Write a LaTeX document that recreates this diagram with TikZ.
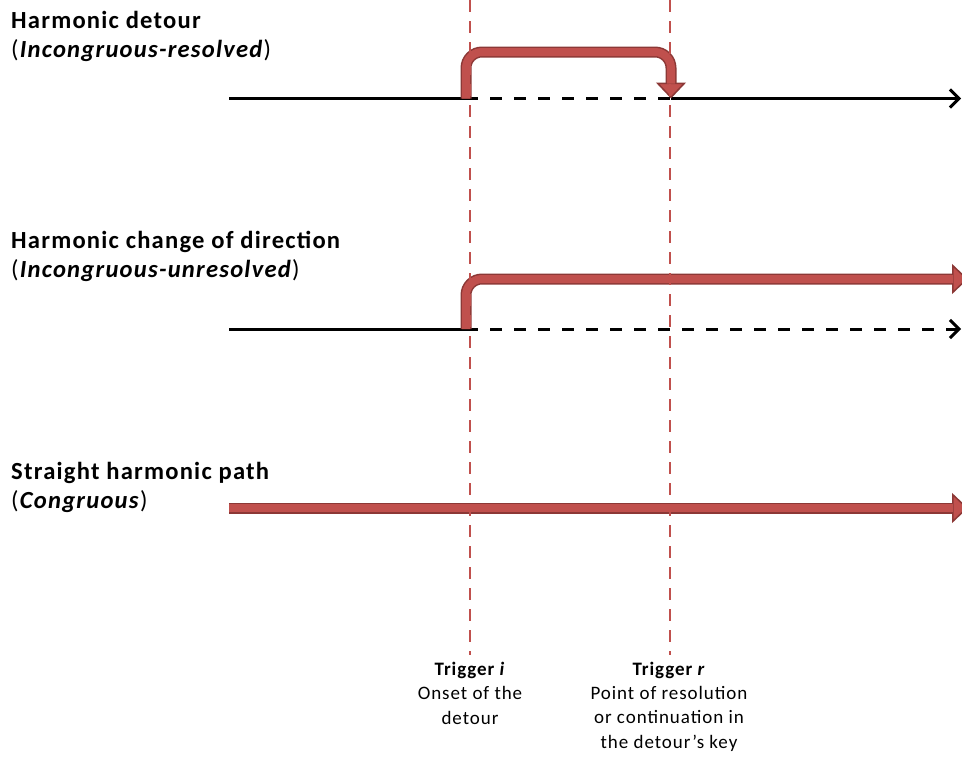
\documentclass[tikz,border=0pt]{standalone}
\usepackage{fontspec}
\setmainfont[LetterSpace=5]{Carlito}
\usetikzlibrary{positioning, arrows.meta}
\definecolor{myred}{RGB}{192,80,77}
\definecolor{reddark}{RGB}{140,56,54}

\begin{document}
\begin{tikzpicture}[x=1pt, y=-1pt,
    title/.style = {anchor=base west, align=left, inner sep=0pt, font=\fontsize{24.6}{28.5}\selectfont},
    trigger/.style = {anchor=base, align=center, inner sep=0pt, font=\fontsize{19}{24.3}\selectfont},
    blackline/.style = {line width=3pt},
    blackarrow/.style = {blackline, -{Straight Barb[length=9pt,width=18pt,line width=3pt]}},
    dashline/.style = {blackarrow, dash pattern=on 12pt off 12pt},
    redarrow/.style = {draw=reddark, line width=11pt, rounded corners=16pt,
        -{Triangle[length=16pt,width=30pt,line width=1.5pt,fill=myred]},
        postaction={draw=myred, line width=8pt, -, shorten >=15pt}},
    guide/.style = {myred, line width=2.5pt, dash pattern=on 12pt off 9pt}]
    \useasboundingbox (0,0) rectangle (962,758);
    \clip (0,0) rectangle (962,758);

    % titles
    \node[title] (detour) at (11,57) {\textbf{Harmonic detour}\\(\textbf{\textit{Incongruous-resolved}})};
    \node[title] (change) at (11,277) {\textbf{Harmonic change of direction}\\(\textbf{\textit{Incongruous-unresolved}})};
    \node[title] (straight) at (11,508) {\textbf{Straight harmonic path}\\(\textbf{\textit{Congruous}})};

    % harmonic detour
    \coordinate (a0) at (229,98.5);
    \coordinate (ai) at (466,98.5);
    \coordinate (atop) at (466,52);
    \coordinate (ar) at (671,98.5);
    \coordinate (ae) at (961,98.5);
    \draw[blackline] (a0) -- (ai);
    \draw[dashline, -] (ai) -- (ar);
    \draw[blackarrow] (ar) -- (ae);
    \draw[redarrow] (ai) -- (atop) -| (ar);

    % change of direction
    \coordinate (b0) at (229,329);
    \coordinate (bi) at (466,329);
    \coordinate (btop) at (466,279);
    \coordinate (be) at (961,329);
    \coordinate (bend) at (968,279);
    \draw[blackline] (b0) -- (bi);
    \draw[dashline] (bi) -- (be);
    \draw[redarrow] (bi) -- (btop) -- (bend);

    % straight path
    \coordinate (c0) at (229,508);
    \coordinate (ce) at (968,508);
    \draw[redarrow] (c0) -- (ce);

    % triggers
    \node[trigger] (trigi) at (470,724) {\textbf{Trigger \textit{i}}\\Onset of the\\detour};
    \node[trigger] (trigr) at (669,748) {\textbf{Trigger \textit{r}}\\Point of resolution\\or continuation in\\the detour’s key};
    \coordinate (gi) at (470,0);
    \coordinate (gr) at (670,0);
    \draw[guide] (gi) -- (gi |- 0,655);
    \draw[guide] (gr) -- (gr |- 0,655);
\end{tikzpicture}
\end{document}
